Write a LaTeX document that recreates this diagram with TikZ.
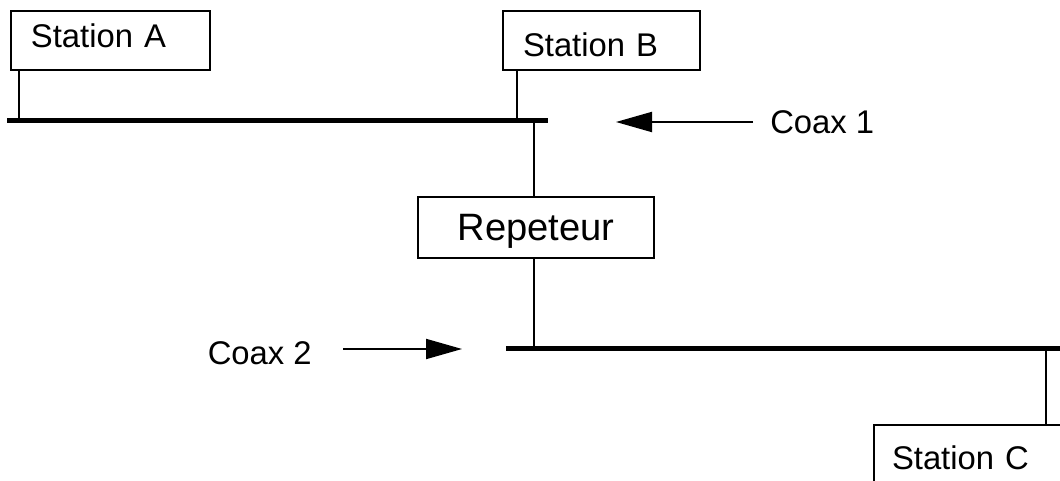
\documentclass[tikz,border=0pt]{standalone}
\usepackage{fontspec}
\setmainfont{Liberation Sans}
\usetikzlibrary{positioning}
\usetikzlibrary{arrows.meta}

\begin{document}
\begin{tikzpicture}[x=0.75pt, y=-0.75pt]
        % ================= styles =================
        \tikzset{
            % station box: black frame, text on the left
            station/.style={draw=black, line width=1.5pt, rectangle, anchor=north west, minimum height=44.25pt, inner xsep=15pt, inner ysep=0pt, align=left, font=\fontsize{24.6pt}{28pt}\selectfont},
            % repeater box
            repbox/.style={draw=black, line width=1.5pt, rectangle, minimum width=177pt, minimum height=45.75pt, inner sep=0pt, text depth=0pt, font=\fontsize{28.6pt}{32pt}\selectfont},
            % thick coax cable
            coax/.style={line width=3.75pt, black},
            % thin drop line
            tap/.style={line width=1.5pt, black},
            % pointer arrow
            coaxarrow/.style={line width=1.5pt, black, -{Triangle[length=27pt, width=15pt]}},
            coaxlabel/.style={inner sep=0pt, font=\fontsize{24.6pt}{28pt}\selectfont}
        }

        \useasboundingbox (0,0) rectangle (1060,481);

        % ================= coax 1 =================
        \coordinate (c1left) at (7,121);
        \coordinate (c1right) at (548,121);
        \draw[coax] (c1left) -- (c1right);

        \node[station, text width=119.25pt, text height=17.6pt, text depth=6.8pt] (staA) at (10,10) {Station A};
        \node[station, text width=117.75pt, text height=23.6pt, text depth=0pt] (staB) at (502,10) {Station B};

        \coordinate (tapA) at (19,121);
        \coordinate (tapB) at (517,121);
        \draw[tap] (tapA |- staA.south) -- (tapA);
        \draw[tap] (tapB |- staB.south) -- (tapB);

        % ================= repeteur =================
        \node[repbox] (rep) at (536,227.5) {Repeteur};
        \coordinate (tapR1) at (534,121);
        \coordinate (tapR2) at (534,348);
        \draw[tap] (tapR1) -- (tapR1 |- rep.north);
        \draw[tap] (tapR1 |- rep.south) -- (tapR2);

        % ================= coax 2 =================
        \coordinate (c2left) at (506,348);
        \coordinate (c2right) at (1090,348);
        \draw[coax] (c2left) -- (c2right);

        % station C runs off the page at the right and bottom
        \node[station, text width=200pt, text height=22.8pt, text depth=0pt, inner xsep=13.5pt] (staC) at (873,424) {Station C};
        \coordinate (tapC) at (1046,348);
        \draw[tap] (tapC) -- (tapC |- staC.north);

        % ================= labels =================
        \coordinate (c1tail) at (753,122);
        \coordinate (c1tip) at (616,122);
        \draw[coaxarrow] (c1tail) -- (c1tip);
        \node[coaxlabel, right=12.75pt of c1tail] (c1lbl) {Coax 1};

        \coordinate (c2tail) at (343,349);
        \coordinate (c2tip) at (462,349);
        \draw[coaxarrow] (c2tail) -- (c2tip);
        \node[coaxlabel, left=23.25pt of c2tail, yshift=-3pt] (c2lbl) {Coax 2};

    \end{tikzpicture}
\end{document}
